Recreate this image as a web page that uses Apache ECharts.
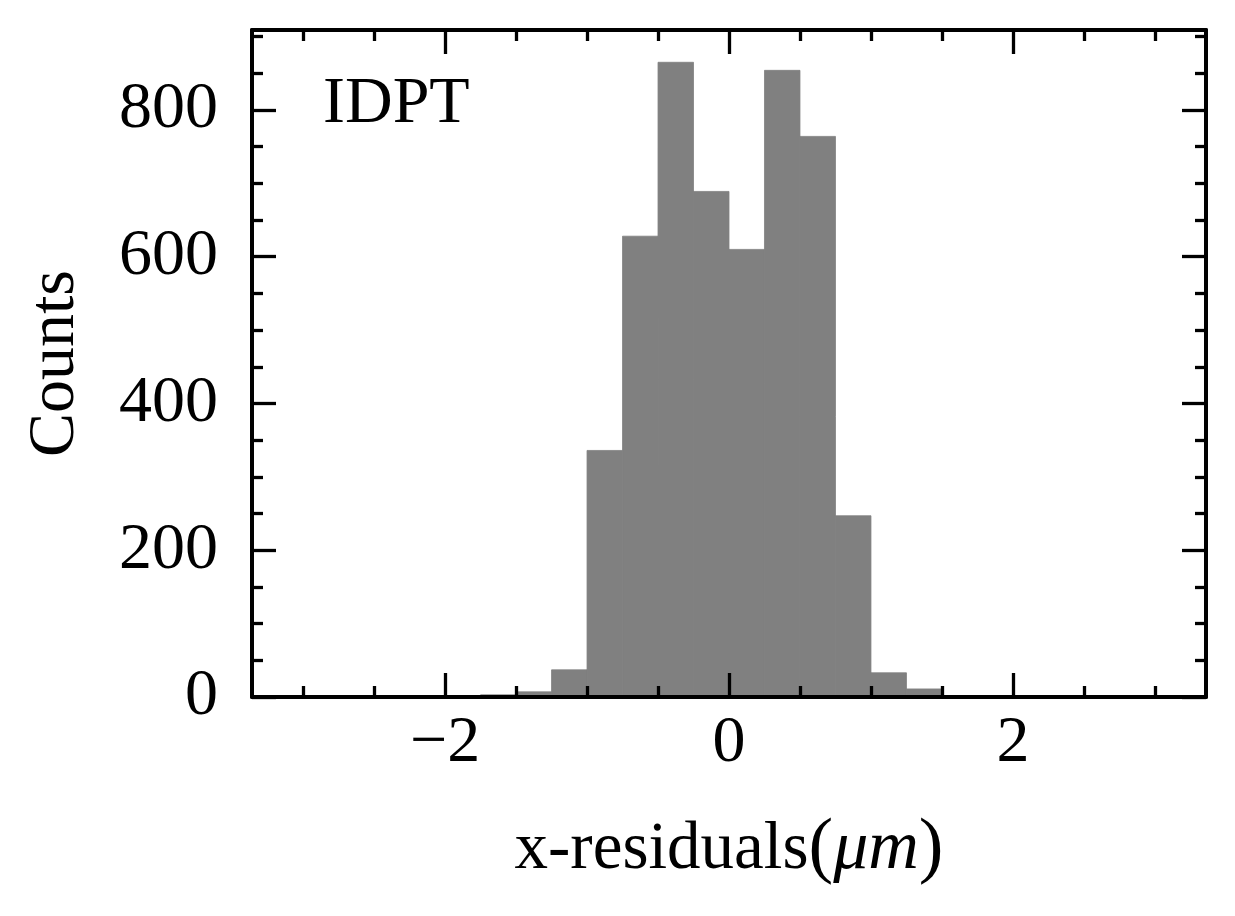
<!DOCTYPE html>
<html>
<head>
<meta charset="utf-8">
<title>IDPT x-residuals</title>
<script src="https://cdn.jsdelivr.net/npm/echarts@6.0.0/dist/echarts.min.js"></script>
<style>
  html, body { margin: 0; padding: 0; background: #fff; }
  #chart { width: 1235px; height: 916px; }
</style>
</head>
<body>
<div id="chart"></div>
<script>
// histogram bins (um) and counts
var binEdges = [-1.75, -1.5, -1.25, -1.0, -0.75, -0.5, -0.25, 0, 0.25, 0.5, 0.75, 1.0, 1.25, 1.5];
var counts = [3, 7, 37, 336, 628, 865, 689, 610, 854, 764, 247, 33, 11];

// tick positions
var xMajor = [-2, 0, 2];
var xMinor = [-3, -2.5, -1.5, -1, -0.5, 0.5, 1, 1.5, 2.5, 3];
var yMajor = [0, 200, 400, 600, 800];
var yMinor = [50, 100, 150, 250, 300, 350, 450, 500, 550, 650, 700, 750, 850, 900];

var xRange = [-3.36, 3.36];
var yRange = [0, 909];

var FONT = 'Liberation Serif';

var chart = echarts.init(document.getElementById('chart'));

// one axis per tick set, ticks point inwards on all four sides
function xAxisFor(pos, ticks, len, showLine) {
  return {
    type: 'value',
    position: pos,
    min: xRange[0],
    max: xRange[1],
    z: 5,
    axisLine: { show: showLine, onZero: false, lineStyle: { color: '#000', width: 4 } },
    axisTick: { show: true, inside: true, length: len, customValues: ticks,
                lineStyle: { color: '#000', width: 3.3 } },
    axisLabel: { show: false },
    splitLine: { show: false }
  };
}

function yAxisFor(pos, ticks, len, showLine) {
  return {
    type: 'value',
    position: pos,
    min: yRange[0],
    max: yRange[1],
    z: 5,
    axisLine: { show: showLine, onZero: false, lineStyle: { color: '#000', width: 4 } },
    axisTick: { show: true, inside: true, length: len, customValues: ticks,
                lineStyle: { color: '#000', width: 3.3 } },
    axisLabel: { show: false },
    splitLine: { show: false }
  };
}

var xMain = xAxisFor('bottom', xMajor, 24, true);
xMain.axisLabel = {
  show: true,
  customValues: xMajor,
  margin: 14,
  color: '#000',
  fontFamily: FONT,
  fontSize: 66,
  formatter: function (v) { return v < 0 ? '\u2212' + Math.abs(v) : String(v); }
};
xMain.name = 'x-residuals{p|(}{it|\u03bcm}{p|)}';
xMain.nameLocation = 'middle';
xMain.nameGap = 116;
xMain.nameTextStyle = {
  color: '#000', fontFamily: FONT, fontSize: 67,
  rich: {
    p: { fontFamily: FONT, fontSize: 74, color: '#000' },
    it: { fontFamily: FONT, fontSize: 70, fontStyle: 'italic', color: '#000' }
  }
};

var yMain = yAxisFor('left', yMajor, 24, true);
yMain.axisLabel = {
  show: true,
  customValues: yMajor,
  margin: 34,
  color: '#000',
  fontFamily: FONT,
  fontSize: 66
};
yMain.name = 'Counts';
yMain.nameLocation = 'middle';
yMain.nameGap = 163;
yMain.nameTextStyle = { color: '#000', fontFamily: FONT, fontSize: 66 };

var option = {
  animation: false,
  backgroundColor: '#fff',
  grid: { left: 252, right: 29, top: 30, bottom: 219 },
  xAxis: [
    xMain,
    xAxisFor('bottom', xMinor, 11, false),
    xAxisFor('top', xMajor, 24, true),
    xAxisFor('top', xMinor, 11, false)
  ],
  yAxis: [
    yMain,
    yAxisFor('left', yMinor, 11, false),
    yAxisFor('right', yMajor, 24, true),
    yAxisFor('right', yMinor, 11, false)
  ],
  graphic: [{
    type: 'text',
    left: 323,
    top: 72,
    style: { text: 'IDPT', fill: '#000', font: '66px "Liberation Serif"' }
  }],
  series: [{
    type: 'custom',
    xAxisIndex: 0,
    yAxisIndex: 0,
    z: 1,
    encode: { x: [0, 1], y: 2 },
    data: counts.map(function (c, i) { return [binEdges[i], binEdges[i + 1], c]; }),
    renderItem: function (params, api) {
      var topLeft = api.coord([api.value(0), api.value(2)]);
      var bottomRight = api.coord([api.value(1), 0]);
      return {
        type: 'rect',
        shape: {
          x: topLeft[0],
          y: topLeft[1],
          width: bottomRight[0] - topLeft[0],
          height: bottomRight[1] - topLeft[1]
        },
        style: { fill: '#808080', stroke: '#808080', lineWidth: 0.8 }
      };
    }
  }]
};

chart.setOption(option);
</script>
</body>
</html>
